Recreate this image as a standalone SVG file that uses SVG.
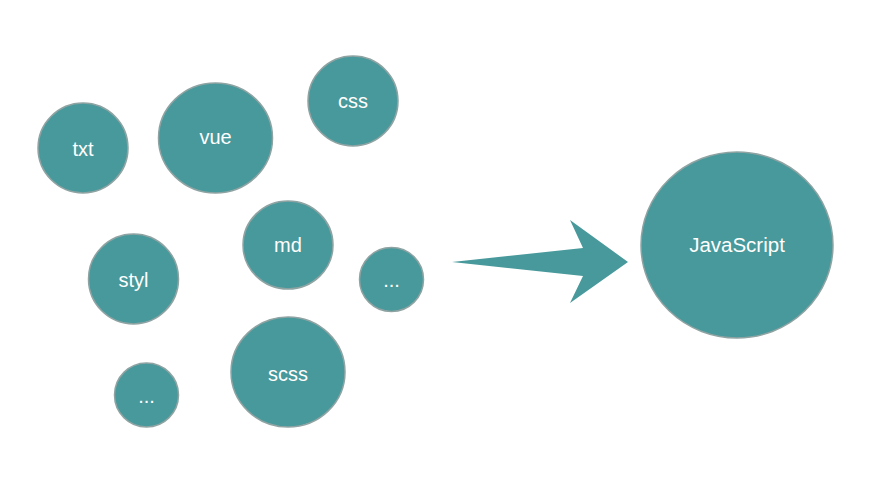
<svg xmlns="http://www.w3.org/2000/svg" width="881" height="497" viewBox="0 0 881 497">
<style>
.n{fill:#48999b;stroke:#8fa3a3;stroke-width:1.5}
.t{fill:#fff;font-family:"Liberation Sans",Arial,sans-serif;font-size:20px;text-anchor:middle}
</style>
<rect width="881" height="497" fill="#fff"/>
<g id="txt"><ellipse class="n" cx="83" cy="148" rx="45" ry="45"/><text class="t" x="83" y="156">txt</text></g>
<g id="vue"><ellipse class="n" cx="215.5" cy="138" rx="57" ry="55"/><text class="t" x="215.5" y="144">vue</text></g>
<g id="css"><ellipse class="n" cx="353" cy="101" rx="45" ry="45"/><text class="t" x="353" y="108">css</text></g>
<g id="md"><ellipse class="n" cx="288" cy="245" rx="45" ry="44"/><text class="t" x="288" y="252">md</text></g>
<g id="styl"><ellipse class="n" cx="133.5" cy="279" rx="45" ry="45"/><text class="t" x="133.5" y="287">styl</text></g>
<g id="more1"><ellipse class="n" cx="391.5" cy="279.5" rx="32" ry="32"/><text class="t" x="391.5" y="287">...</text></g>
<g id="more2"><ellipse class="n" cx="146.5" cy="395" rx="32" ry="32"/><text class="t" x="146.5" y="403">...</text></g>
<g id="scss"><ellipse class="n" cx="288" cy="372" rx="57" ry="55"/><text class="t" x="288" y="381">scss</text></g>
<g id="javascript"><ellipse class="n" cx="737" cy="245" rx="96" ry="93"/><text class="t" x="737" y="252" style="font-size:20.5px">JavaScript</text></g>
<g id="connectors"><polygon points="452,262 583,248 570,220 628,262 570,303 583,276" fill="#48999b"/></g>
</svg>
